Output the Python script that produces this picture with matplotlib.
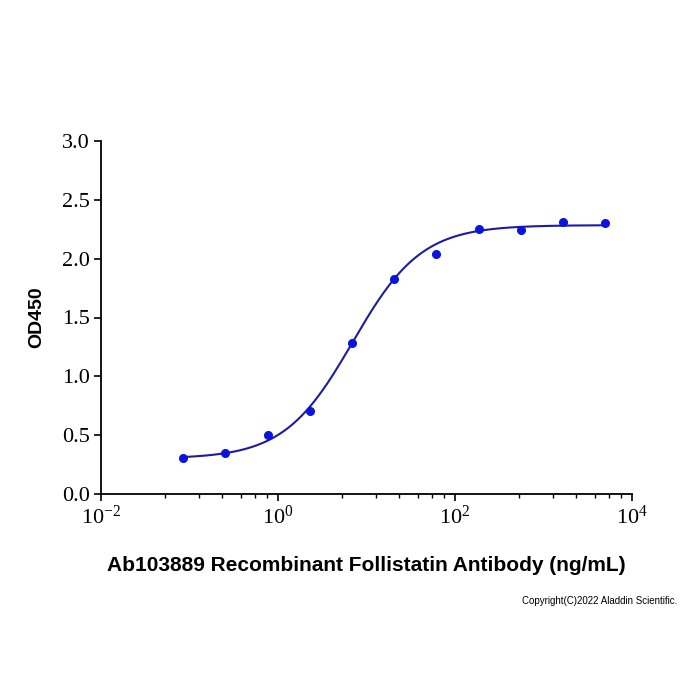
import numpy as np
import matplotlib
matplotlib.use("Agg")
import matplotlib.pyplot as plt
from matplotlib.ticker import FixedLocator, NullFormatter

# Data
conc = [0.0847, 0.254, 0.762, 2.286, 6.859, 20.58, 61.73, 185.2, 555.6, 1667, 5000]
od450 = [0.31, 0.352, 0.50, 0.705, 1.28, 1.83, 2.04, 2.255, 2.245, 2.31, 2.30]

# 4PL fit parameters (estimated)
fit_bottom = 0.30
fit_top = 2.285
fit_ec50 = 7.0
fit_hill = 1.12

xlabel = "Ab103889 Recombinant Follistatin Antibody (ng/mL)"
ylabel = "OD450"
yticks = [0.0, 0.5, 1.0, 1.5, 2.0, 2.5, 3.0]
ytick_labels = ["0.0", "0.5", "1.0", "1.5", "2.0", "2.5", "3.0"]
xticks = [1e-2, 1e0, 1e2, 1e4]
xtick_labels = [r"$10^{-2}$", r"$10^{0}$", r"$10^{2}$", r"$10^{4}$"]
copyright_text = "Copyright(C)2022 Aladdin Scientific."

plt.rcParams["mathtext.fontset"] = "custom"
plt.rcParams["mathtext.rm"] = "Liberation Serif"
plt.rcParams["mathtext.it"] = "Liberation Serif"

fig = plt.figure(figsize=(7, 7), dpi=100)
ax = fig.add_axes([101 / 700, 1 - 494 / 700, (632 - 101) / 700, (494 - 141) / 700])

xs = np.logspace(np.log10(min(conc)), np.log10(max(conc)), 400)
ys = fit_bottom + (fit_top - fit_bottom) / (1 + (fit_ec50 / xs) ** fit_hill)
ax.plot(xs, ys, color="#1c1ca0", lw=1.5, zorder=2)
ax.plot(conc, od450, "o", color="#0a14dc", ms=5.5, zorder=3)

ax.set_xscale("log")
ax.set_xlim(1e-2, 1e4)
ax.set_ylim(0, 3.0)

for s in ["top", "right"]:
    ax.spines[s].set_visible(False)
for s in ["left", "bottom"]:
    ax.spines[s].set_linewidth(1.3)

ax.xaxis.set_major_locator(FixedLocator(xticks))
ax.set_xticklabels(xtick_labels)
minor = []
for m in [-2, 0, 2]:
    for k in range(1, 7):
        minor.append(10 ** (m + 2 * np.log10(1 + 9 * k / 7)))
ax.xaxis.set_minor_locator(FixedLocator(minor))
ax.xaxis.set_minor_formatter(NullFormatter())
ax.set_yticks(yticks)
ax.set_yticklabels(ytick_labels)

ax.tick_params(axis="both", which="major", direction="out", length=5, width=1.2,
               labelsize=16, pad=3)
ax.tick_params(axis="x", which="minor", direction="out", length=3, width=1.0)
for lab in ax.get_yticklabels():
    lab.set_fontfamily("Liberation Serif")
for lab in ax.get_xticklabels():
    lab.set_fontfamily("Liberation Serif")

ax.set_ylabel(ylabel, fontsize=14, fontweight="bold", family="Liberation Sans", labelpad=12)
ax.set_xlabel(xlabel, fontsize=15, fontweight="bold", family="Liberation Sans", labelpad=20)

fig.text(677 / 700, 1 - 601 / 700, copyright_text, fontsize=7, family="Liberation Sans",
         ha="right", va="center")

fig.savefig("out.png", dpi=100)
